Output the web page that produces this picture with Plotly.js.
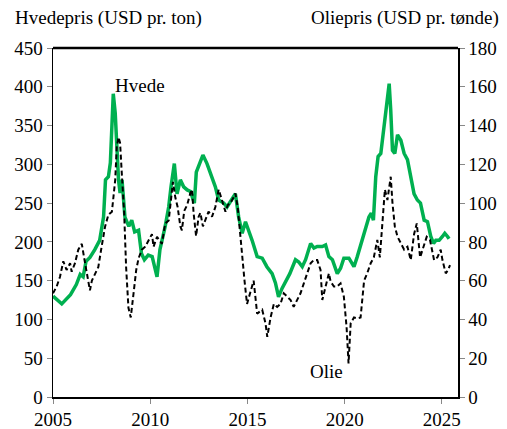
<!DOCTYPE html>
<html><head><meta charset="utf-8">
<script src="https://cdn.plot.ly/plotly-3.0.1.min.js"></script>
<style>html,body{margin:0;padding:0;background:#fff}#c{width:507px;height:429px}</style>
</head><body><div id="c"></div>
<script>
const wheatX = [2005.0,2005.45,2005.9,2006.2,2006.4,2006.55,2006.7,2006.9,2007.15,2007.4,2007.6,2007.7,2007.85,2007.95,2008.1,2008.2,2008.37,2008.45,2008.55,2008.7,2008.9,2009.05,2009.2,2009.4,2009.55,2009.7,2009.9,2010.1,2010.35,2010.5,2010.77,2010.95,2011.07,2011.24,2011.38,2011.55,2011.72,2011.9,2012.07,2012.27,2012.37,2012.54,2012.71,2012.92,2013.09,2013.35,2013.52,2013.78,2013.95,2014.2,2014.38,2014.55,2014.73,2014.9,2015.07,2015.24,2015.5,2015.76,2016.0,2016.27,2016.44,2016.6,2016.78,2017.04,2017.18,2017.47,2017.64,2017.82,2017.99,2018.25,2018.42,2018.59,2018.85,2019.02,2019.19,2019.37,2019.62,2019.79,2019.96,2020.22,2020.48,2020.65,2020.9,2021.08,2021.25,2021.37,2021.48,2021.6,2021.72,2021.86,2022.03,2022.16,2022.29,2022.37,2022.46,2022.58,2022.72,2022.89,2023.06,2023.23,2023.4,2023.57,2023.74,2023.9,2024.09,2024.26,2024.43,2024.57,2024.69,2024.86,2025.03,2025.15,2025.29,2025.37];
const wheatY = [130,120,132,145,158,155,175,180,190,202,232,280,284,302,391,366,280,263,280,232,220,228,213,215,185,177,183,181,155,190,220,245,271,301,262,280,271,267,265,250,290,301,312,301,288,271,254,250,245,254,262,232,211,226,215,202,181,179,168,159,147,129,140,151,159,177,174,168,177,198,192,194,194,196,181,177,159,166,179,179,168,181,202,215,232,237,228,284,310,314,349,370,404,370,318,314,338,331,314,306,282,262,254,250,228,226,207,198,202,202,207,211,207,204];

const oilX = [2005.0,2005.19,2005.36,2005.53,2005.7,2005.88,2005.96,2006.13,2006.3,2006.48,2006.65,2006.74,2006.9,2007.0,2007.16,2007.33,2007.5,2007.68,2007.85,2008.03,2008.2,2008.28,2008.37,2008.45,2008.54,2008.66,2008.76,2008.88,2009.0,2009.14,2009.28,2009.4,2009.57,2009.74,2009.91,2010.09,2010.17,2010.35,2010.6,2010.77,2010.95,2011.07,2011.17,2011.29,2011.41,2011.55,2011.63,2011.75,2011.9,2012.06,2012.15,2012.23,2012.36,2012.49,2012.58,2012.71,2012.89,2013.0,2013.18,2013.35,2013.52,2013.7,2013.87,2013.99,2014.12,2014.29,2014.38,2014.5,2014.6,2014.73,2014.85,2014.98,2015.15,2015.32,2015.5,2015.76,2015.93,2016.02,2016.19,2016.36,2016.53,2016.7,2016.87,2017.05,2017.22,2017.38,2017.56,2017.73,2017.9,2018.07,2018.25,2018.41,2018.59,2018.76,2018.85,2019.02,2019.19,2019.28,2019.45,2019.62,2019.79,2019.96,2020.1,2020.2,2020.31,2020.48,2020.65,2020.82,2021.0,2021.16,2021.34,2021.5,2021.68,2021.81,2021.93,2022.07,2022.2,2022.37,2022.46,2022.58,2022.72,2022.89,2023.06,2023.23,2023.4,2023.57,2023.71,2023.88,2024.05,2024.22,2024.39,2024.6,2024.77,2024.94,2025.03,2025.2,2025.32,2025.42];
const oilY = [53.5,57,62,70,65.5,69,64.6,69,76,79,69,64,55,60,63,67,77.5,88,94,95.6,112,129,134,131,115,95,67,46,41,52,65.5,71.5,76,77.5,81,84,77.5,82.6,79,89.5,91,102,111,103,98,88,86,96,99,105,107,95,83,93,95,88,93,95.6,93,98,107,101.6,95.6,99,100,103,105,98,86,72,60,48,53.5,60,43,45,38,31,41,48,46.5,48,53.5,51.7,50,46.5,50,53.5,58.6,63.8,69,70.6,70.6,65.5,50,57,63.8,59.5,57,57,58.6,51.7,36,17.3,38,41,40.6,41,60,63.8,69,72,81,72,89.5,107,101.6,113.6,100,88,82.6,79,76,77.5,70.6,84,89.5,72,77.5,82.6,81,70.6,72,76,70.6,63.8,65.5,68];

const xTicks = [2005,2010,2015,2020,2025];
const leftTicks = [0,50,100,150,200,250,300,350,400,450];
const rightTicks = [0,20,40,60,80,100,120,140,160,180];

const FONT = 'Times New Roman, Liberation Serif, Tinos, serif';
const SZ = 19;
const traces = [
  {x: oilX, y: oilY, yaxis: 'y2', type: 'scatter', mode: 'lines', name: 'Olie',
   line: {color: '#000', width: 2, dash: '5px,3px'}},
  {x: wheatX, y: wheatY, type: 'scatter', mode: 'lines', name: 'Hvede',
   line: {color: '#00b050', width: 3.5}}
];
function ax(extra) {
  return Object.assign({showgrid: false, zeroline: false, showline: true, linecolor: '#000', linewidth: 1.5,
    ticks: 'outside', ticklen: 5, tickcolor: '#888', tickwidth: 1,
    tickfont: {family: FONT, size: SZ, color: '#000'}}, extra);
}
const layout = {
  width: 507, height: 429,
  margin: {l: 53, r: 49, t: 48, b: 32},
  paper_bgcolor: '#fff', plot_bgcolor: '#fff',
  font: {family: FONT, size: SZ, color: '#000'},
  showlegend: false,
  xaxis: ax({range: [2005, 2025.83], tickvals: xTicks, ticktext: xTicks.map(String)}),
  yaxis: ax({range: [0, 450], tickvals: leftTicks}),
  yaxis2: ax({range: [0, 180], tickvals: rightTicks, overlaying: 'y', side: 'right'}),
  shapes: [{type: 'line', xref: 'paper', yref: 'paper', x0: 0, x1: 1, y0: 1, y1: 1, line: {color: '#000', width: 2.5}}],
  annotations: [
    {text: 'Hvedepris (USD pr. ton)', xref: 'paper', yref: 'paper', x: -0.098, y: 1.0, yshift: 30, xanchor: 'left', yanchor: 'middle', showarrow: false, font: {family: FONT, size: SZ, color: '#000'}},
    {text: 'Oliepris (USD pr. tønde)', xref: 'paper', yref: 'paper', x: 1.105, y: 1.0, yshift: 30, xanchor: 'right', yanchor: 'middle', showarrow: false, font: {family: FONT, size: SZ, color: '#000'}},
    {text: 'Hvede', x: 2009.45, y: 402, xanchor: 'center', yanchor: 'middle', showarrow: false, font: {family: FONT, size: SZ, color: '#000'}},
    {text: 'Olie', x: 2019.05, y: 13, yref: 'y2', xanchor: 'center', yanchor: 'middle', showarrow: false, font: {family: FONT, size: SZ, color: '#000'}}
  ]
};
Plotly.newPlot('c', traces, layout, {staticPlot: true});
</script></body></html>
